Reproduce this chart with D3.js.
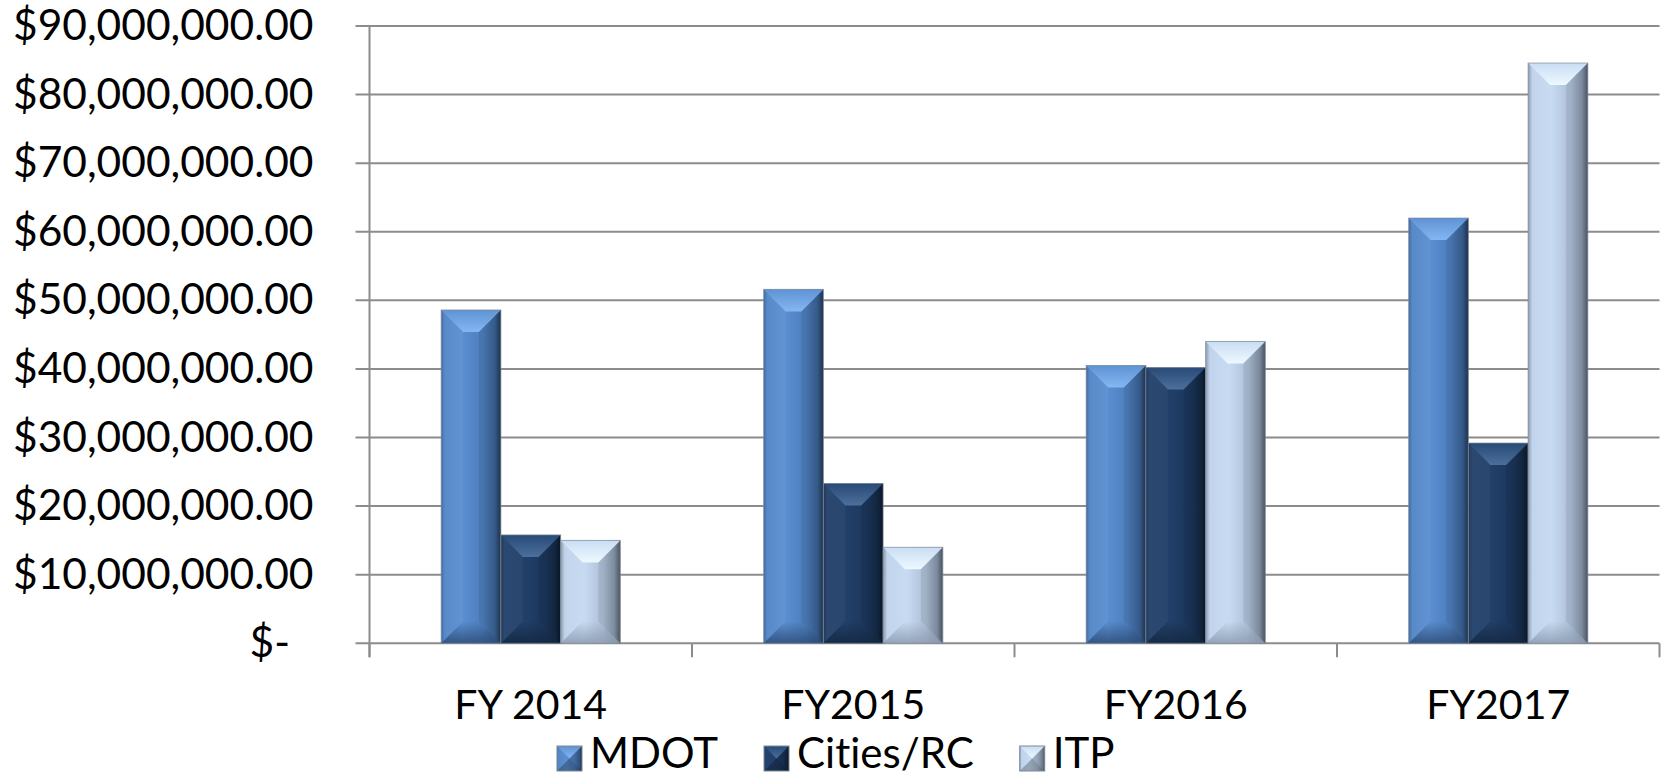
<!DOCTYPE html>
<html>
<head>
<meta charset="utf-8">
<script src="https://cdn.jsdelivr.net/npm/d3@7"></script>
<style>
  html, body { margin: 0; padding: 0; background: #fff; }
  svg { display: block; }
  text { font-family: Lato, "Open Sans", sans-serif; fill: #000; font-variant-ligatures: none; font-feature-settings: "liga" 0; }
</style>
</head>
<body>
<svg id="chart" width="1667" height="773"></svg>
<script>
const categories = ["FY 2014", "FY2015", "FY2016", "FY2017"];
const seriesNames = ["MDOT", "Cities/RC", "ITP"];
const mdot   = [48.6e6, 51.6e6, 40.5e6, 62.0e6];
const cities = [15.8e6, 23.3e6, 40.2e6, 29.2e6];
const itp    = [15.0e6, 14.0e6, 44.0e6, 84.6e6];
const yTicks = [0, 10e6, 20e6, 30e6, 40e6, 50e6, 60e6, 70e6, 80e6, 90e6];

const seriesValues = [mdot, cities, itp];

(function () {
const svg = d3.select("#chart");
const pLeft = 369.5, pRight = 1659.5, pTop = 26, pBottom = 643.3;

const y = d3.scaleLinear().domain([0, 90e6]).range([pBottom, pTop]);
const x0 = d3.scaleBand().domain(categories).range([pLeft, pRight]).paddingInner(0).paddingOuter(0);
const x1 = d3.scaleBand().domain(seriesNames).range([0, x0.bandwidth()]).paddingInner(0).paddingOuter(1.2);

const styles = {
  "MDOT": {
    body: [[0,"#3a649c"],[0.06,"#5286c6"],[0.35,"#5b8fd1"],[0.7,"#4d7ebd"],[0.9,"#3a6294"],[1,"#1f3654"]],
    topA: "#5f93d4", topB: "#84b6f2",
    bot: "#2d4d78"
  },
  "Cities/RC": {
    body: [[0,"#18304f"],[0.06,"#22416b"],[0.4,"#213f69"],[0.75,"#1b365b"],[0.92,"#132842"],[1,"#0b182a"]],
    topA: "#284a76", topB: "#4d6f9b",
    bot: "#142740"
  },
  "ITP": {
    body: [[0,"#8596ab"],[0.07,"#bfd3ec"],[0.4,"#c6daf1"],[0.72,"#adbfd6"],[0.9,"#8797ab"],[1,"#4f5b69"]],
    topA: "#c9ddf3", topB: "#eef9ff",
    bot: "#8d9db2"
  }
};

const defs = svg.append("defs");
seriesNames.forEach((s, i) => {
  const st = styles[s];
  const g = defs.append("linearGradient").attr("id", "body" + i).attr("x1", 0).attr("x2", 1).attr("y1", 0).attr("y2", 0);
  st.body.forEach(([o, c]) => g.append("stop").attr("offset", o).attr("stop-color", c));
  const t = defs.append("linearGradient").attr("id", "top" + i).attr("x1", 0).attr("x2", 0).attr("y1", 0).attr("y2", 1);
  t.append("stop").attr("offset", 0).attr("stop-color", st.topA);
  t.append("stop").attr("offset", 1).attr("stop-color", st.topB);
  const b = defs.append("linearGradient").attr("id", "bot" + i).attr("x1", 0).attr("x2", 0).attr("y1", 0).attr("y2", 1);
  b.append("stop").attr("offset", 0).attr("stop-color", st.bot).attr("stop-opacity", 0.0);
  b.append("stop").attr("offset", 1).attr("stop-color", st.bot).attr("stop-opacity", 0.85);
});

const gridColor = "#8c8c8c";
svg.append("g").selectAll("line").data(yTicks).join("line")
  .attr("x1", pLeft - 14).attr("x2", pRight)
  .attr("y1", d => y(d)).attr("y2", d => y(d))
  .attr("stroke", gridColor).attr("stroke-width", 2);

const yAxis = d3.axisLeft(y).tickValues(yTicks).tickSize(0).tickPadding(56)
  .tickFormat(d => d === 0 ? "$-" : "$" + d3.format(",.2f")(d));
const ya = svg.append("g").attr("transform", `translate(${pLeft},0)`).call(yAxis);
ya.select(".domain").remove();
ya.selectAll("text").attr("font-size", 42.5).attr("font-family", "Lato, sans-serif").attr("fill", "#000")
  .attr("dx", d => d === 0 ? -23.5 : 0);

svg.append("line").attr("x1", pLeft).attr("x2", pLeft).attr("y1", pTop).attr("y2", pBottom + 14)
  .attr("stroke", gridColor).attr("stroke-width", 2);

const bounds = categories.map(c => x0(c)).concat([pRight]);
svg.append("g").selectAll("line").data(bounds).join("line")
  .attr("x1", d => d).attr("x2", d => d).attr("y1", pBottom).attr("y2", pBottom + 14)
  .attr("stroke", gridColor).attr("stroke-width", 2);

svg.append("g").selectAll("text").data(categories).join("text")
  .attr("x", d => x0(d) + x0.bandwidth() / 2).attr("y", 719)
  .attr("text-anchor", "middle").attr("font-size", 41).text(d => d);

function bevelBar(g, x, yT, w, h, i, bev) {
  const b = Math.min(bev, w / 2, h / 2);
  const x2 = x + w, yb = yT + h;
  g.append("rect").attr("x", x).attr("y", yT).attr("width", w).attr("height", h)
    .attr("fill", `url(#body${i})`);
  g.append("path").attr("d", `M${x},${yT}L${x2},${yT}L${x2 - b},${yT + b}L${x + b},${yT + b}Z`)
    .attr("fill", `url(#top${i})`);
  g.append("path").attr("d", `M${x},${yb}L${x2},${yb}L${x2 - b},${yb - b}L${x + b},${yb - b}Z`)
    .attr("fill", `url(#bot${i})`);
  g.append("path").attr("d", `M${x},${yT}L${x + b},${yT + b}L${x + b},${yb - b}L${x},${yb}Z`)
    .attr("fill", "#ffffff").attr("opacity", 0.04);
  g.append("path").attr("d", `M${x2},${yT}L${x2 - b},${yT + b}L${x2 - b},${yb - b}L${x2},${yb}Z`)
    .attr("fill", "#000000").attr("opacity", 0.08);
  g.append("rect").attr("x", x).attr("y", yT).attr("width", w).attr("height", h)
    .attr("fill", "none").attr("stroke", "#7f8a96").attr("stroke-opacity", 0.7).attr("stroke-width", 1);
}

const barG = svg.append("g");
categories.forEach((c, ci) => {
  seriesNames.forEach((s, si) => {
    const v = seriesValues[si][ci];
    const bx = x0(c) + x1(s);
    const by = y(v);
    bevelBar(barG.append("g"), bx, by, x1.bandwidth(), y(0) - by, si, 22);
  });
});

const leg = svg.append("g");
let lx = 557;
const ly = 768;
seriesNames.forEach((s, i) => {
  const sz = 25;
  const mg = leg.append("g");
  const mx = lx, my = ly - 22;
  mg.append("rect").attr("x", mx).attr("y", my).attr("width", sz).attr("height", sz).attr("fill", `url(#body${i})`);
  const cx = mx + sz / 2, cy = my + sz / 2;
  mg.append("path").attr("d", `M${mx},${my}L${mx + sz},${my}L${cx},${cy}Z`).attr("fill", `url(#top${i})`);
  mg.append("path").attr("d", `M${mx},${my + sz}L${mx + sz},${my + sz}L${cx},${cy}Z`).attr("fill", "#000").attr("opacity", 0.25);
  mg.append("path").attr("d", `M${mx + sz},${my}L${mx + sz},${my + sz}L${cx},${cy}Z`).attr("fill", "#000").attr("opacity", 0.15);
  mg.append("rect").attr("x", mx).attr("y", my).attr("width", sz).attr("height", sz)
    .attr("fill", "none").attr("stroke", "#7f8a96").attr("stroke-width", 1);
  const t = leg.append("text").attr("x", mx + sz + 8).attr("y", ly).attr("font-size", 42).text(s);
  lx = mx + sz + 8 + t.node().getComputedTextLength() + 46;
});
})();
</script>
</body>
</html>
